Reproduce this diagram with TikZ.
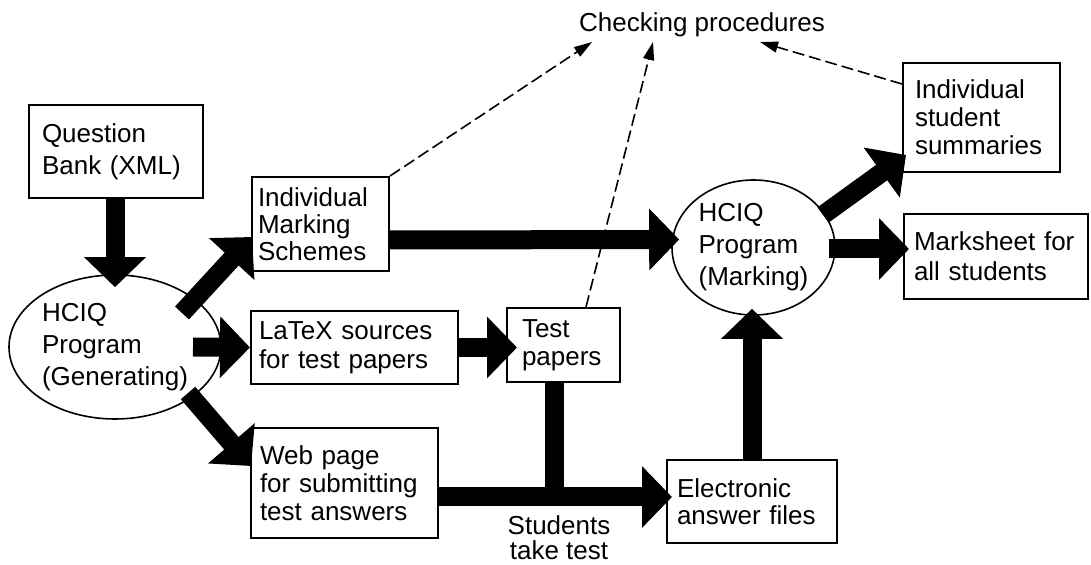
\documentclass[tikz,border=0pt]{standalone}
\usepackage{fontspec}
\setmainfont{Liberation Sans}
\usetikzlibrary{arrows.meta,calc,shapes.geometric}

\begin{document}
\begin{tikzpicture}[x=0.5pt, y=-0.5pt,
    box/.style={draw, line width=1pt, align=left, inner ysep=0pt, font=\fontsize{13}{14.5}\selectfont},
    prog/.style={draw, ellipse, line width=0.8pt, align=left, inner sep=0pt, font=\fontsize{13}{16}\selectfont},
    flow/.style={line width=9.5pt, -{Triangle[length=15pt,width=30pt]}},
    checkline/.style={line width=0.8pt, dash pattern=on 6pt off 2.5pt, -{Triangle[length=9pt,width=5.5pt]}}]

    \useasboundingbox (0,0) rectangle (1091,565);

    % Boxes and programs
    \node[box, text width=74pt, inner xsep=6.5pt, minimum height=46.5pt, font=\fontsize{13}{16}\selectfont] (qb) at (116,151.5) {Question\\Bank (XML)};
    \node[prog, minimum width=106pt, minimum height=72pt] (gen) at (115,347) {HCIQ\\Program\\(Generating)};
    \node[box, text width=62.5pt, inner xsep=3pt, minimum height=47pt, font=\fontsize{13}{13.5}\selectfont] (ims) at (320.5,224) {Individual\\Marking\\Schemes};
    \node[box, text width=95.5pt, inner xsep=4pt, minimum height=36.5pt] (latex) at (354.5,347.5) {LaTeX sources\\for test papers};
    \node[box, text width=41.5pt, inner xsep=7.5pt, minimum height=37pt, font=\fontsize{13}{14}\selectfont] (test) at (563.5,345) {Test\\papers};
    \node[box, text width=84.5pt, inner xsep=4.5pt, minimum height=55pt, font=\fontsize{13}{14}\selectfont] (web) at (344.5,483) {Web page\\for submitting\\test answers};
    \node[box, text width=75pt, inner xsep=5pt, minimum height=41.5pt, font=\fontsize{13}{13.5}\selectfont] (elec) at (752,501.5) {Electronic\\answer files};
    \node[prog, minimum width=81.5pt, minimum height=67.5pt] (mark) at (753.5,247.5) {HCIQ\\Program\\(Marking)};
    \node[box, text width=66.5pt, inner xsep=6pt, minimum height=54.5pt, font=\fontsize{13}{14}\selectfont] (summ) at (981.5,117.5) {Individual\\student\\summaries};
    \node[box, text width=82pt, inner xsep=5pt, minimum height=42.5pt, font=\fontsize{13}{15}\selectfont] (sheet) at (996,256.5) {Marksheet for\\all students};

    % Free texts
    \node[inner sep=0pt, font=\fontsize{13}{15}\selectfont] (chk) at (702,25) {Checking procedures};
    \node[align=center, inner sep=0pt, font=\fontsize{13}{12.5}\selectfont] (take) at (559,538) {Students\\take test};

    % Thick flow arrows
    \draw[flow] (qb.south -| gen.north) -- ($(gen.north)+(0,13)$);
    \draw[flow] ($(gen.center)+(67,-34)$) -- ($(ims.west)+(1,13)$);
    \draw[flow] ($(gen.center)+(78,0)$) -- (latex.west);
    \draw[flow] ($(gen.center)+(73,46)$) -- ($(web.west)+(1,-17)$);
    \draw[flow] ($(ims.east)+(0,16)$) -- ($(mark.west)+(8,-8)$);
    \draw[flow] (latex.east) -- ($(test.west)+(11,2.5)$);
    \coordinate (join) at ($(test.south)+(-9.5,115)$);
    \draw[line width=9.5pt] ($(test.south)+(-9.5,0)$) -- (join);
    \draw[flow] ($(web.east)+(0,14)$) -- ($(elec.west)+(6,-4.5)$);
    \draw[flow] (elec.north) -- ($(mark.south)+(-1.5,-7)$);
    \draw[flow] ($(mark.center)+(69.5,-32.5)$) -- ($(summ.south west)+(4,-18)$);
    \draw[flow] ($(mark.east)+(-7,1.5)$) -- ($(sheet.west)+(6,-7.5)$);

    % Dashed checking arrows
    \draw[checkline] (ims.north east) -- ($(chk.center)+(-110,17)$);
    \draw[checkline] ($(test.north)+(22.5,0)$) -- ($(chk.center)+(-49,17)$);
    \draw[checkline] ($(summ.west)+(0,-33.5)$) -- ($(chk.center)+(58,17)$);

\end{tikzpicture}
\end{document}
